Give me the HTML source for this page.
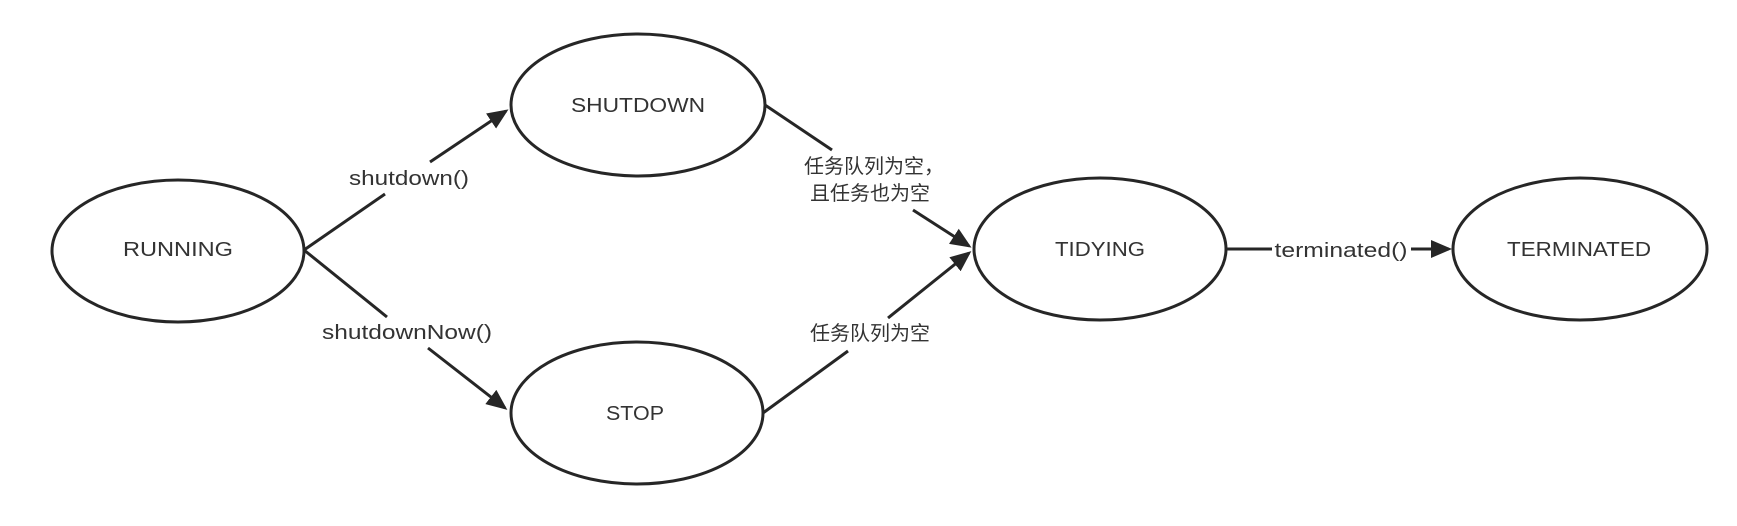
<!DOCTYPE html>
<html><head><meta charset="utf-8"><style>html,body{margin:0;padding:0;background:#fff}</style></head>
<body>
<svg width="1737" height="521" viewBox="0 0 1737 521" xmlns="http://www.w3.org/2000/svg">
<defs>
<marker id="a" markerWidth="7" markerHeight="6" refX="6" refY="3" orient="auto" markerUnits="strokeWidth">
<path d="M0,0 L7,3 L0,6 Z" fill="#262626"/>
</marker>
</defs>
<g fill="none" stroke="#262626" stroke-width="3">
<ellipse cx="178" cy="251" rx="126" ry="71"/>
<ellipse cx="638" cy="105" rx="127" ry="71"/>
<ellipse cx="637" cy="413" rx="126" ry="71"/>
<ellipse cx="1100" cy="249" rx="126" ry="71"/>
<ellipse cx="1580" cy="249" rx="127" ry="71"/>
<line x1="304" y1="250" x2="385" y2="194"/>
<line x1="430" y1="162" x2="506" y2="111" marker-end="url(#a)"/>
<line x1="304" y1="250" x2="387" y2="317"/>
<line x1="428" y1="348" x2="505" y2="408" marker-end="url(#a)"/>
<line x1="765" y1="105" x2="832" y2="150"/>
<line x1="913" y1="210" x2="969" y2="246" marker-end="url(#a)"/>
<line x1="763" y1="413" x2="848" y2="351"/>
<line x1="888" y1="318" x2="969" y2="253" marker-end="url(#a)"/>
<line x1="1227" y1="249" x2="1272" y2="249"/>
<line x1="1411" y1="249" x2="1449" y2="249" marker-end="url(#a)"/>
</g>
<g font-family="'Liberation Sans','Noto Sans CJK SC',sans-serif" font-size="20" fill="#333" text-anchor="middle" dominant-baseline="central">
<text x="178" y="250" textLength="110" lengthAdjust="spacingAndGlyphs">RUNNING</text>
<text x="638" y="106" textLength="134" lengthAdjust="spacingAndGlyphs">SHUTDOWN</text>
<text x="635" y="414" textLength="58" lengthAdjust="spacingAndGlyphs">STOP</text>
<text x="1100" y="250" textLength="90" lengthAdjust="spacingAndGlyphs">TIDYING</text>
<text x="1579" y="250" textLength="144" lengthAdjust="spacingAndGlyphs">TERMINATED</text>
<text x="409" y="179" textLength="120" lengthAdjust="spacingAndGlyphs">shutdown()</text>
<text x="407" y="333" textLength="170" lengthAdjust="spacingAndGlyphs">shutdownNow()</text>
<text x="874" y="167">任务队列为空，</text>
<text x="870" y="194">且任务也为空</text>
<text x="870" y="334">任务队列为空</text>
<text x="1341" y="251" textLength="133" lengthAdjust="spacingAndGlyphs">terminated()</text>
</g>
</svg>
</body></html>
